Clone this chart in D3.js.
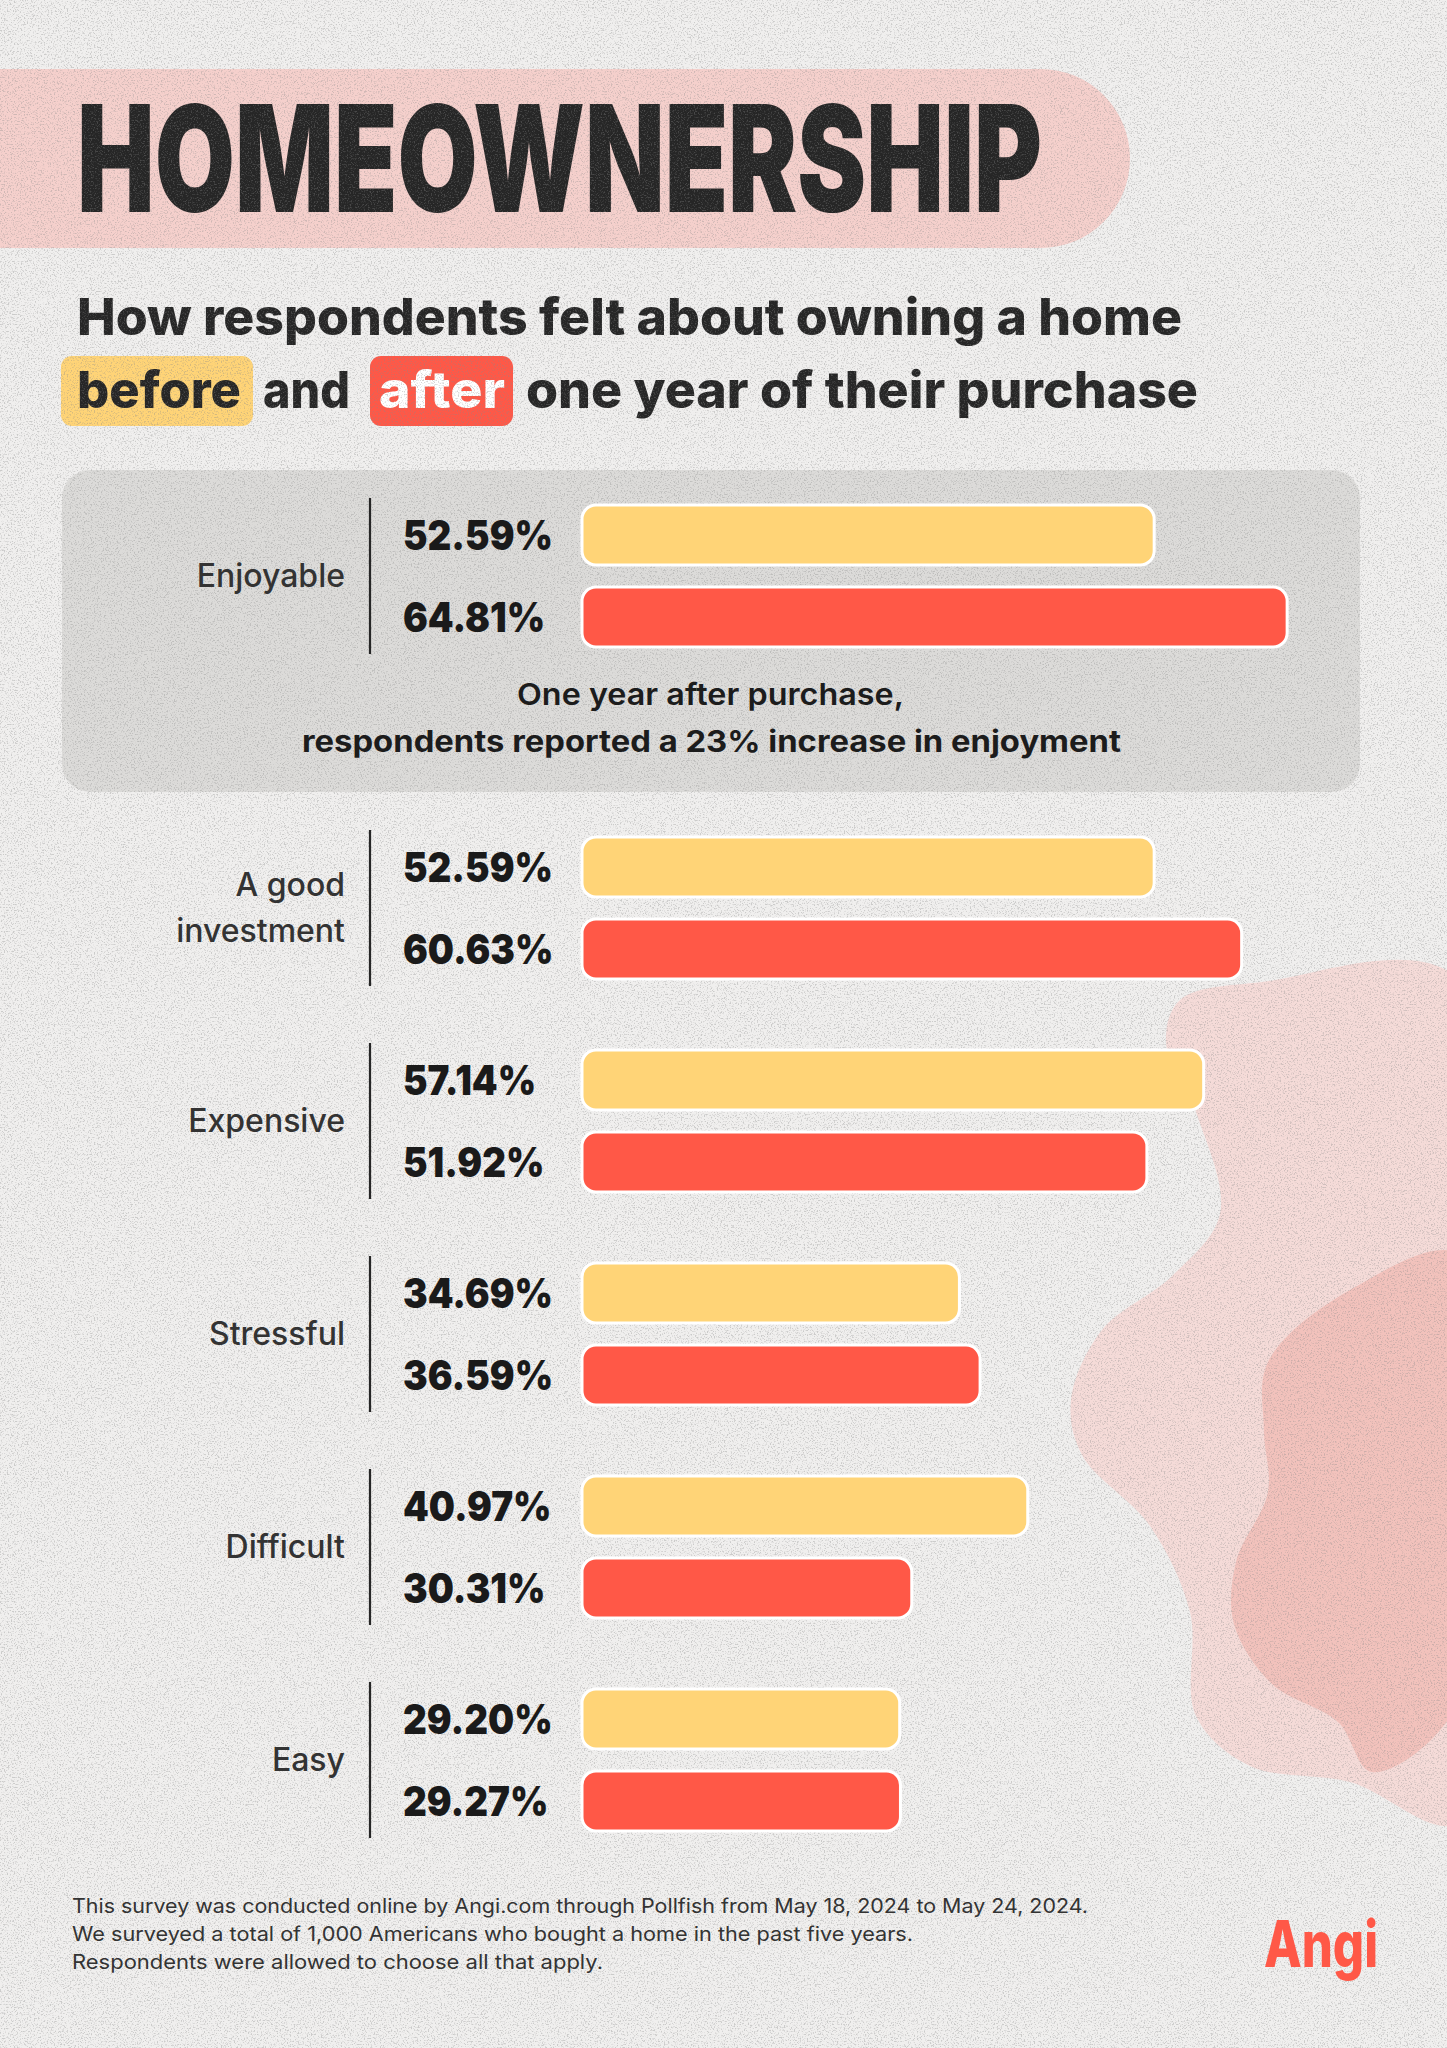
<!DOCTYPE html>
<html><head><meta charset="utf-8">
<script src="https://cdn.jsdelivr.net/npm/d3@7"></script>
<style>html,body{margin:0;padding:0;background:#f0efee;} svg{display:block}</style>
</head><body><svg id="c" width="1447" height="2048"></svg>
<script>
// ---- data ----
const categories = ["Enjoyable", "A good investment", "Expensive", "Stressful", "Difficult", "Easy"];
const categoryLines = [["Enjoyable"], ["A good", "investment"], ["Expensive"], ["Stressful"], ["Difficult"], ["Easy"]];
const seriesNames = ["before", "after"];
const beforeValues = [52.59, 52.59, 57.14, 34.69, 40.97, 29.20];
const afterValues = [64.81, 60.63, 51.92, 36.59, 30.31, 29.27];
const valueLabelsBefore = ["52.59%", "52.59%", "57.14%", "34.69%", "40.97%", "29.20%"];
const valueLabelsAfter = ["64.81%", "60.63%", "51.92%", "36.59%", "30.31%", "29.27%"];
const titleText = "HOMEOWNERSHIP";
const subtitleLine1 = "How respondents felt about owning a home";
const subtitleLine2 = ["before", "and", "after", "one year of their purchase"];
const calloutLines = ["One year after purchase,", "respondents reported a 23% increase in enjoyment"];
const footnoteLines = [
  "This survey was conducted online by Angi.com through Pollfish from May 18, 2024 to May 24, 2024.",
  "We surveyed a total of 1,000 Americans who bought a home in the past five years.",
  "Respondents were allowed to choose all that apply."
];
const brandText = "Angi";

// ---- styling ----
const C = {bg:"#f0efee", band:"#f5d0cc", panel:"#dcdbd9", yellow:"#ffd477", red:"#ff5847", ink:"#262626", blobA:"#f5dbd8", blobB:"#f2c2bc"};
const FONT = "Inter, 'Noto Sans', 'Liberation Sans', sans-serif";

const svg = d3.select("#c");
const W = 1447, H = 2048;

// background + paper speckle
const defs = svg.append("defs");
const f = defs.append("filter").attr("id","noise").attr("x",0).attr("y",0).attr("width","100%").attr("height","100%");
f.append("feTurbulence").attr("type","fractalNoise").attr("baseFrequency","0.7").attr("numOctaves",3).attr("seed",7).attr("result","t");
f.append("feColorMatrix").attr("in","t").attr("type","matrix")
 .attr("values","0 0 0 0 0.25  0 0 0 0 0.25  0 0 0 0 0.25  5 0 0 0 -2.6");
svg.append("rect").attr("width",W).attr("height",H).attr("fill",C.bg);

// decorative blobs
const blobLight = [[1180,1000],[1262,982],[1460,980],[1460,1822],[1350,1782],[1250,1766],[1196,1716],[1190,1612],[1150,1526],[1082,1455],[1071,1400],[1102,1330],[1172,1276],[1220,1214],[1196,1112],[1166,1042]];
const blobDark = [[1460,1255],[1350,1290],[1268,1362],[1264,1432],[1268,1492],[1236,1562],[1234,1624],[1272,1684],[1338,1722],[1372,1772],[1460,1700]];
const blobLine = d3.line().curve(d3.curveCatmullRomClosed.alpha(0.5));
svg.append("path").attr("d", blobLine(blobLight)).attr("fill", C.blobA);
svg.append("path").attr("d", blobLine(blobDark)).attr("fill", C.blobB);

// title band
const bandTop = 69, bandBot = 248, bandRight = 1130, br = (bandBot-bandTop)/2;
svg.append("path").attr("fill", C.band)
  .attr("d", `M0,${bandTop} H${bandRight-br} A${br},${br} 0 0 1 ${bandRight-br},${bandBot} H0 Z`);
const title = svg.append("text").text(titleText).attr("x",0).attr("y",0)
  .attr("font-family",FONT).attr("font-weight",900).attr("font-size",148).attr("fill",C.ink);
const tw = title.node().getComputedTextLength();
title.attr("transform", `translate(77,212) scale(${965/tw},1)`);

// subtitle
function fitText(g, txt, x, y, w, size, weight, fill){
  return g.append("text").text(txt).attr("x",x).attr("y",y).attr("font-family",FONT)
    .attr("font-weight",weight).attr("font-size",size).attr("fill",fill)
    .attr("textLength",w).attr("lengthAdjust","spacingAndGlyphs");
}
fitText(svg, subtitleLine1, 77, 335, 1105, 51, 800, C.ink);
svg.append("rect").attr("x",61).attr("y",356).attr("width",192).attr("height",70).attr("rx",11).attr("fill",C.yellow);
svg.append("rect").attr("x",370).attr("y",356).attr("width",143).attr("height",70).attr("rx",11).attr("fill",C.red);
const segX = [[77,164],[263,87],[379,126],[526,672]];
subtitleLine2.forEach((s,i)=>fitText(svg, s, segX[i][0], 408, segX[i][1], 51, 800, i===2?"#ffffff":C.ink));

// highlighted panel
svg.append("rect").attr("x",62).attr("y",470).attr("width",1298).attr("height",322).attr("rx",28).attr("fill",C.panel);

// speckle overlay
svg.append("rect").attr("width",W).attr("height",H).attr("filter","url(#noise)").attr("opacity",0.35);

// ---- chart ----
const x = d3.scaleLinear().domain([0,100]).range([582, 582+1088]);
const yGroup = d3.scalePoint().domain(categories).range([695, 1760]);
const gy = (c,i) => yGroup(c) + (i===0 ? -119 : 0);
const ySeries = d3.scaleBand().domain(seriesNames).range([-71,71]).paddingInner(22/82);
const color = d3.scaleOrdinal(seriesNames, [C.yellow, C.red]);

const rows = categories.map((c,i)=>({cat:c, i, lines:categoryLines[i],
  vals:[{s:"before", v:beforeValues[i], label:valueLabelsBefore[i]},{s:"after", v:afterValues[i], label:valueLabelsAfter[i]}]}));

const grp = svg.append("g").selectAll("g").data(rows).join("g")
  .attr("transform", d=>`translate(0,${gy(d.cat,d.i)})`);

grp.append("line").attr("x1",370).attr("x2",370).attr("y1",-78).attr("y2",78)
  .attr("stroke",C.ink).attr("stroke-width",2.2);

grp.each(function(d){
  const g = d3.select(this);
  const n = d.lines.length, lh = 46;
  d.lines.forEach((ln,k)=>{
    g.append("text").text(ln).attr("x",345).attr("y", (k-(n-1)/2)*lh + 11)
      .attr("text-anchor","end").attr("font-family",FONT).attr("font-weight",500)
      .attr("font-size",32).attr("fill","#333");
  });
});

const bars = grp.selectAll("g.bar").data(d=>d.vals).join("g").attr("class","bar");
bars.append("rect")
  .attr("x", x(0)).attr("y", d=>ySeries(d.s)).attr("height", ySeries.bandwidth())
  .attr("width", d=>x(d.v)-x(0)).attr("rx",14)
  .attr("fill", d=>color(d.s)).attr("stroke","#ffffff").attr("stroke-width",3);

const vt = bars.append("text").text(d=>d.label)
  .attr("x",403).attr("y", d=>ySeries(d.s)+ySeries.bandwidth()/2+15)
  .attr("font-family",FONT).attr("font-weight",900).attr("font-size",41).attr("fill","#1a1a1a");
const k = 150 / vt.node().getComputedTextLength();
vt.each(function(){ const w=this.getComputedTextLength(); d3.select(this).attr("textLength", w*k).attr("lengthAdjust","spacingAndGlyphs"); });

// callout
fitText(svg, calloutLines[0], 517, 705, 387, 30, 600, "#1c1c1c");
fitText(svg, calloutLines[1], 302, 752, 819, 30, 700, "#1c1c1c");

// footnotes
const fw = [1016, 841, 531];
footnoteLines.forEach((t,i)=>fitText(svg, t, 72, 1913 + i*28, fw[i], 20, 400, "#333"));

// brand
fitText(svg, brandText, 1264, 1967, 114, 64, 800, C.red);
</script></body></html>
